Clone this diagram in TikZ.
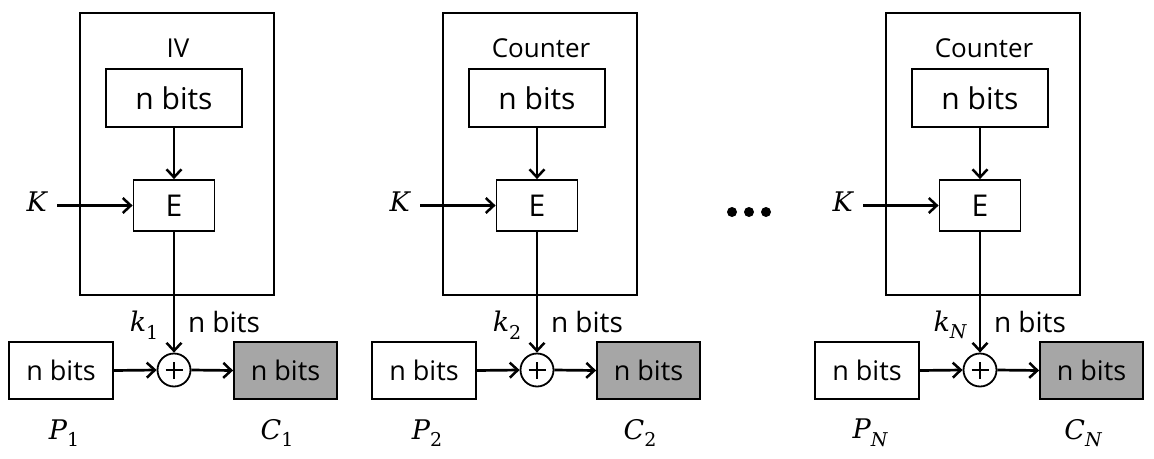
\documentclass[tikz,border=0pt]{standalone}
\usepackage{fontspec}
\setmainfont{Open Sans}
\newfontfamily\mathlike{DejaVu Serif}
\newcommand{\mvar}[2]{{\mathlike\itshape #1}\raisebox{-0.28em}{\fontsize{19}{20}\selectfont\mathlike #2}}
\usetikzlibrary{arrows.meta}
\tikzset{
  outerbox/.style={draw, line width=2.8pt, minimum width=194pt, minimum height=282pt, inner sep=0pt},
  bitbox/.style={draw, line width=1.8pt, inner sep=0pt, font=\fontsize{30}{32}\selectfont},
  lowbox/.style={bitbox, font=\fontsize{27}{30}\selectfont},
  graybox/.style={lowbox, fill=black!35},
  conn/.style={line width=2.7pt, -{Straight Barb[length=8pt,width=15pt,line width=2.5pt]}},
  xorc/.style={draw, circle, line width=1.8pt, minimum size=33pt, inner sep=0pt},
  lbl/.style={inner sep=0pt, font=\fontsize{26}{28}\selectfont},
  mlbl/.style={inner sep=0pt, font=\fontsize{27}{30}\selectfont},
}
\begin{document}
\begin{tikzpicture}[x=1pt,y=-1pt]
\useasboundingbox (0,0) rectangle (1154,458);
\foreach \dx/\lab/\sub/\i in {0/IV/1/a, 363/Counter/2/b, 806/Counter/\itshape N/c}{
\begin{scope}[xshift=\dx pt]
  \node[outerbox] (O\i) at (177,154) {};
  \node[lbl] (L\i) at (178,48) {\lab};
  \node[bitbox, minimum width=136pt, minimum height=58pt] (T\i) at (174,98) {n bits};
  \node[bitbox, minimum width=81pt, minimum height=51pt] (E\i) at (174,205.5) {E};
  \node[mlbl, inner xsep=10pt, anchor=east] (K\i) at (57,205.5) {\mvar{K}{}};
  \node[xorc] (X\i) at (174,370) {};
  \draw[line width=2.2pt] ([yshift=-8.5pt]X\i.center) -- ([yshift=8.5pt]X\i.center)
        ([xshift=-8.5pt]X\i.center) -- ([xshift=8.5pt]X\i.center);
  \node[lowbox, minimum width=104pt, minimum height=57pt] (P\i) at (61,370.5) {n bits};
  \node[graybox, minimum width=103pt, minimum height=57pt] (C\i) at (285.5,370.5) {n bits};
  \node[mlbl] (k\i) at (144,325) {\mvar{k}{\sub}};
  \node[lbl, font=\fontsize{28}{30}\selectfont] (n\i) at (224,322) {n bits};
  \node[mlbl] (PL\i) at (64,433) {\mvar{P}{\sub}};
  \node[mlbl] (CL\i) at (277,433) {\mvar{C}{\sub}};
  \draw[conn] (T\i.south) -- (E\i.north);
  \draw[conn] (K\i.east) -- (E\i.west);
  \draw[conn] (E\i.south) -- (X\i.north);
  \draw[conn] (P\i.east) -- (X\i.west);
  \draw[conn] (X\i.east) -- (C\i.west);
\end{scope}
}
\foreach \x/\j in {732/1,749/2,766/3}{
  \fill (\x,212) circle (5pt) coordinate (dot\j);
}
\end{tikzpicture}
\end{document}
